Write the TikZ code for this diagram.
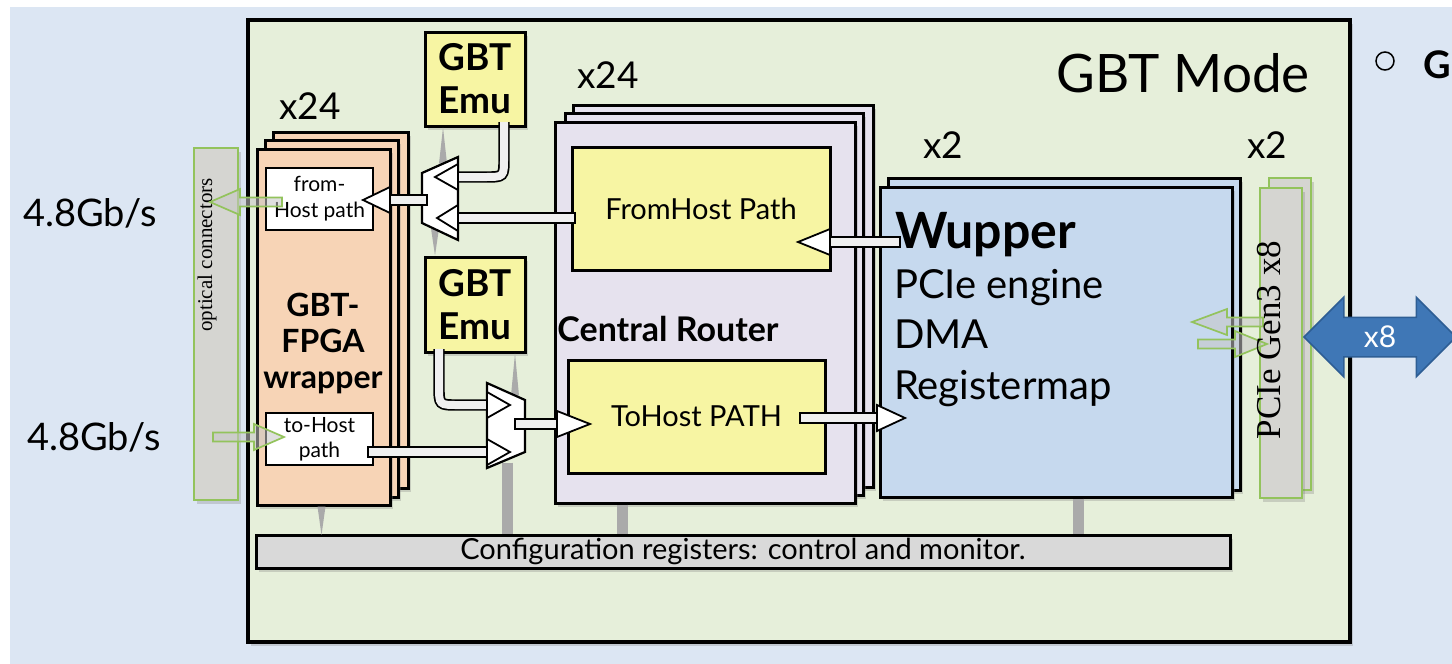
\documentclass[tikz,border=0pt]{standalone}
\usepackage{fontspec}
\setmainfont{Lato}
\newfontfamily\serfam{Liberation Serif}
\usetikzlibrary{shadows,calc,shapes.arrows}
\definecolor{bgblue}{HTML}{DCE6F3}
\definecolor{boxgreen}{HTML}{E6EFDA}
\definecolor{peach}{HTML}{F7D4B6}
\definecolor{lav}{HTML}{E6E2EE}
\definecolor{emuyel}{HTML}{F7F5A3}
\definecolor{wupblue}{HTML}{C6D9EE}
\definecolor{bargray}{HTML}{D5D5D1}
\definecolor{cfggray}{HTML}{D9D9D9}
\definecolor{conngreen}{HTML}{93C35C}
\definecolor{ctrlgray}{HTML}{AAAAAA}
\definecolor{pcieblue}{HTML}{3F77B6}
\definecolor{pcieedge}{HTML}{2E5E94}
\newcommand\fs[1]{\fontsize{#1}{#1}\selectfont}
\newcommand\blkhead[2]{%
  \draw[headst] let \p2=(#1) in (\x2,\y2) -- ({\x2+(#2pt)},{\y2+13pt}) -- ({\x2+(#2pt)},{\y2-13pt}) -- cycle;}
\newcommand\blkarrow[3]{%
  \draw[shaftst] let \p1=(#1), \p2=(#2) in (\x1,{\y2-5pt}) rectangle ({\x2+(#3pt)},{\y2+5pt});
  \blkhead{#2}{#3}}
\newcommand\grnarrow[3]{%
  \draw[grnst] let \p1=(#1), \p2=(#2) in (\x1,{\y2-4.5pt}) -- ({\x2+(#3pt)},{\y2-4.5pt}) -- ({\x2+(#3pt)},{\y2-13pt}) -- (\x2,\y2) -- ({\x2+(#3pt)},{\y2+13pt}) -- ({\x2+(#3pt)},{\y2+4.5pt}) -- (\x1,{\y2+4.5pt}) -- cycle;}
\begin{document}
\begin{tikzpicture}[x=1pt,y=-1pt,
  every node/.style={inner sep=0pt, outer sep=0pt},
  box/.style={draw=black, line width=3pt},
  shd/.style={drop shadow={opacity=0.3, shadow xshift=3pt, shadow yshift=-4pt}},
  peachbox/.style={box, fill=peach, shd},
  lavbox/.style={box, fill=lav, shd},
  yelbox/.style={box, fill=emuyel, shd},
  barbox/.style={draw=conngreen, line width=1.6pt, fill=bargray, shd},
  muxst/.style={draw=black, line width=2.2pt, fill=white, line join=miter},
  shaftst/.style={draw=black, line width=1.7pt, fill=gray!12},
  headst/.style={draw=black, line width=1.8pt, fill=white, line join=miter},
  dbl/.style={draw=black, double=gray!12, double distance=8pt, line width=1.7pt},
  grnst/.style={draw=conngreen, line width=1.7pt, fill=gray!45, fill opacity=0.55},
  ctrlbar/.style={draw=ctrlgray, line width=11pt, shorten <=1.5pt, shorten >=1.5pt},
]
\fill[white] (0,0) rectangle (1452,664);
\fill[bgblue] (10,7) rectangle (1452,664);
\useasboundingbox (0,0) rectangle (1452,664);

% main frame
\node[box, fill=boxgreen, line width=3.6pt, shd, minimum width=1102pt, minimum height=622pt] (main) at (799,331) {};
\node (mode) at (1183,73) {\fs{53}GBT Mode};
\node[circle, draw, line width=1.5pt, minimum size=18pt] (bul) at (1385,61) {};
\node[anchor=west, font=\fs{38}\bfseries] (gg) at (1423,65) {G};

% rates and optical connectors
\node (r1) at (90,213) {\fs{38}4.8Gb/s};
\node (r2) at (94,437) {\fs{38}4.8Gb/s};
\node[barbox, minimum width=44pt, minimum height=352pt] (opt) at (216,324) {};
\node[rotate=90, font=\serfam\fs{21}] (optt) at (207,255) {optical connectors};

% configuration bar
\node[box, fill=cfggray, shd, minimum width=974pt, minimum height=33pt, font=\fs{29}] (cfg) at (743,551.5) {Configuration registers: control and monitor.};

% GBT-FPGA wrapper stack
\node[peachbox, minimum width=135pt, minimum height=356pt] (wrap3) at (340.5,310) {};
\node[peachbox, minimum width=133pt, minimum height=357pt] (wrap2) at (331.5,318.5) {};
\node[peachbox, minimum width=133pt, minimum height=356pt] (wrap1) at (323.5,327) {};
\node (x24a) at (310,106) {\fs{37}x24};
\node[box, fill=white, line width=2.4pt, minimum width=107pt, minimum height=62pt, align=center, font=\fontsize{21}{26}\selectfont] (fhb) at (319.5,199) {from-\\Host path};
\node[box, fill=white, line width=2.4pt, minimum width=107pt, minimum height=52pt, align=center, font=\fontsize{21}{25}\selectfont] (thb) at (319.5,439) {to-Host\\path};
\node[align=center, font=\fontsize{32}{36}\selectfont\bfseries] (wrapt) at (323,343) {GBT-\\FPGA\\wrapper};

% GBT emulators
\node[yelbox, minimum width=100pt, minimum height=94pt, align=center, font=\fontsize{37}{43}\selectfont\bfseries] (emu1) at (475,79) {GBT\\Emu};
\node[yelbox, minimum width=100pt, minimum height=95pt, align=center, font=\fontsize{37}{43}\selectfont\bfseries] (emu2) at (475,304.5) {GBT\\Emu};

% central router stack
\node[lavbox, minimum width=300pt, minimum height=382pt] (cr3) at (723,296) {};
\node[lavbox, minimum width=298pt, minimum height=382pt] (cr2) at (714,304) {};
\node[lavbox, minimum width=300pt, minimum height=381pt] (cr1) at (705,312.5) {};
\node (x24b) at (608,75) {\fs{37}x24};
\node[box, fill=emuyel, minimum width=258pt, minimum height=123pt, font=\fs{29}] (fhp) at (701,208.5) {FromHost Path};
\node[font=\fs{34}\bfseries] (crt) at (668,329) {Central Router};
\node[box, fill=emuyel, minimum width=257pt, minimum height=113pt, font=\fs{29}] (thp) at (696.5,416.5) {ToHost PATH};

% Wupper stack
\node[box, fill=wupblue, shd, minimum width=352pt, minimum height=312pt] (wup2) at (1064,334) {};
\node[box, fill=wupblue, shd, minimum width=352pt, minimum height=310pt] (wup1) at (1056,342) {};
\node (x2a) at (943,145) {\fs{37}x2};
\node (x2b) at (1267,145) {\fs{37}x2};
\node[anchor=base west, font=\fs{50}\bfseries] (wt1) at (895,248) {Wupper};
\node[anchor=base west, font=\fs{40}] (wt2) at (894,298) {PCIe engine};
\node[anchor=base west, font=\fs{40}] (wt3) at (894,348) {DMA};
\node[anchor=base west, font=\fs{40}] (wt4) at (894,399) {Registermap};

% PCIe connector bars
\node[barbox, minimum width=42pt, minimum height=312pt] (pc2) at (1290,334) {};
\node[barbox, minimum width=42pt, minimum height=310pt] (pc1) at (1281,343) {};

% control links
\coordinate (cw) at ([xshift=-2pt]wrap1.south);
\coordinate (cc) at ([xshift=-83pt]cr1.south);
\coordinate (cu) at ([xshift=22pt]wup1.south);
\coordinate (m2bot) at (507,461);
\draw[ctrlbar] (cc) -- (cc |- cfg.north);
\draw[ctrlbar] (cu) -- (cu |- cfg.north);
\draw[ctrlbar] (m2bot) -- (m2bot |- cfg.north);
\fill[ctrlgray] ([xshift=-4pt,yshift=-1.5pt]cw) -- ([xshift=4pt,yshift=-1.5pt]cw) -- (cw |- cfg.north) -- cycle;
\coordinate (e1c) at ([xshift=-32pt,yshift=-1.5pt]emu1.south);
\fill[ctrlgray] (e1c) -- ++(-4,36) -- ++(8,0) -- cycle;
\coordinate (e2c) at ([xshift=-40pt,yshift=1.5pt]emu2.north);
\fill[ctrlgray] (e2c) -- ++(-4,-27) -- ++(8,0) -- cycle;
\coordinate (e2d) at ([xshift=40pt,yshift=-1.5pt]emu2.south);
\fill[ctrlgray] (e2d) -- ++(-4,42) -- ++(8,0) -- cycle;

% multiplexers
\draw[muxst] (422,173) -- (458,157) -- (458,240) -- (422,223) -- cycle;
\draw[muxst] (487,383) -- (525,400) -- (525,452) -- (487,468) -- cycle;
\coordinate (m1in1) at (435,177);
\coordinate (m1in2) at (437,218);
\coordinate (m1out) at (427,200);
\coordinate (m2in1) at (510,405);
\coordinate (m2in2) at (510,452);
\coordinate (m2out) at (515,424);

% black data arrows
\coordinate (aA) at (575,218);
\blkarrow{aA}{m1in2}{21}
\coordinate (tC) at (363,200);
\blkarrow{m1out}{tC}{27}
\coordinate (aD) at (900,242);
\coordinate (tD) at (798,242);
\blkarrow{aD}{tD}{32}
\coordinate (aE) at (800,418);
\coordinate (tE) at (905,418);
\blkarrow{aE}{tE}{-28}
\coordinate (tF) at (590,424);
\blkarrow{m2out}{tF}{-33}
\coordinate (aG) at (368,452);
\blkarrow{aG}{m2in2}{-23}
\coordinate (bB) at ([xshift=29pt,yshift=4pt]emu1.south);
\draw[dbl] (bB) -- (504,158) .. controls (504,177) .. (485,177) -- (458,177);
\blkhead{m1in1}{23}
\coordinate (bH) at ([xshift=-36pt,yshift=3pt]emu2.south);
\draw[dbl] (bH) -- (439,386) .. controls (439,405) .. (458,405) -- (487,405);
\blkhead{m2in1}{-23}

% green link arrows
\coordinate (g1t) at (282,202);
\coordinate (g1h) at (210,202);
\grnarrow{g1t}{g1h}{30}
\coordinate (g2t) at (213,437);
\coordinate (g2h) at (284,437);
\grnarrow{g2t}{g2h}{-30}
\coordinate (g3t) at (1263,322);
\coordinate (g3h) at (1192,322);
\grnarrow{g3t}{g3h}{35}
\coordinate (g4t) at (1198,344);
\coordinate (g4h) at (1267,344);
\grnarrow{g4t}{g4h}{-32}

\node[rotate=90, font=\serfam\fs{35}] (pct) at (1269,340) {PCIe Gen3 x8};

% PCIe link
\node[double arrow, fill=pcieblue, draw=pcieedge, line width=1.5pt, minimum height=152pt, double arrow head extend=20pt, inner xsep=4pt, inner ysep=0pt, text height=29pt, text depth=9pt, text=white, font=\fs{30}] (x8) at (1380,337) {x8};
\end{tikzpicture}
\end{document}
